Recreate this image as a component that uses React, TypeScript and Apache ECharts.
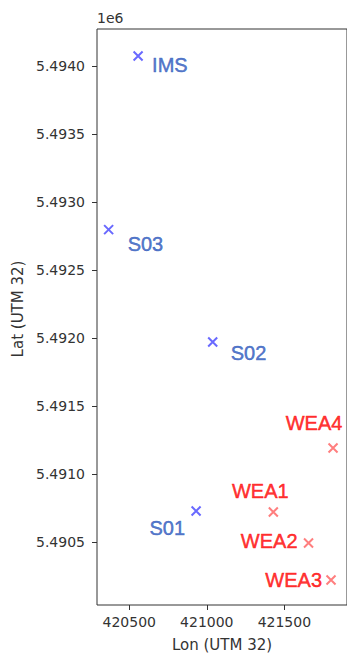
import React, { useEffect, useRef } from "react";
import * as echarts from "echarts";

// Measurement stations (UTM zone 32, metres)
const stationNames = ["IMS", "S03", "S02", "S01"];
const stationLon = [420557, 420367, 421038, 420931];
const stationLat = [5494074, 5492797, 5491971, 5490728];

// Wind turbines
const turbineNames = ["WEA1", "WEA2", "WEA3", "WEA4"];
const turbineLon = [421429, 421656, 421801, 421814];
const turbineLat = [5490721, 5490493, 5490221, 5491191];

// Axis ranges and tick values
const lonMin = 420292;
const lonMax = 421904;
const latMin = 5490037;
const latMax = 5494272;
const lonTicks = [420500, 421000, 421500];
const latTicks = [5490500, 5491000, 5491500, 5492000, 5492500, 5493000, 5493500, 5494000];

// Label placement next to each marker: [align, dx, dy] in pixels
const stationLabelPlace: [string, number, number][] = [
  ["left", 14, 9],
  ["left", 19, 14],
  ["left", 18, 11],
  ["right", -11, 17],
];
const turbineLabelPlace: [string, number, number][] = [
  ["center", -13, -21],
  ["right", -11, -2],
  ["right", -9, 0],
  ["center", -19, -25],
];

const CROSS = "path://M0,0L10,10M10,0L0,10";

export default function App() {
  const ref = useRef<HTMLDivElement>(null);

  useEffect(() => {
    if (!ref.current) return;
    const chart = echarts.init(ref.current, undefined, { renderer: "svg" });

    const makePoints = (
      names: string[],
      lon: number[],
      lat: number[],
      place: [string, number, number][]
    ) =>
      names.map((n, i) => ({
        name: n,
        value: [lon[i], lat[i]],
        label: { align: place[i][0], offset: [place[i][1], place[i][2]] },
      }));

    const axisText = { color: "#333", fontFamily: "DejaVu Sans", fontSize: 14 };

    const pointLabel = (color: string) => ({
      show: true,
      position: "inside",
      formatter: "{b}",
      color,
      textBorderColor: color,
      textBorderWidth: 0.5,
      fontFamily: "Liberation Sans",
      fontSize: 20,
      verticalAlign: "middle",
    });

    chart.setOption({
      animation: false,
      grid: {
        left: 97,
        top: 29,
        width: 255,
        height: 576,
        show: true,
        borderColor: "#333",
        borderWidth: 1,
        backgroundColor: "transparent",
      },
      xAxis: {
        type: "value",
        min: lonMin,
        max: lonMax,
        name: "Lon (UTM 32)",
        nameLocation: "middle",
        nameGap: 32,
        nameTextStyle: { ...axisText, fontSize: 15 },
        axisLine: { show: false },
        splitLine: { show: false },
        axisTick: {
          show: true,
          length: 5,
          customValues: lonTicks,
          lineStyle: { color: "#333" },
        },
        axisLabel: {
          ...axisText,
          margin: 10,
          customValues: lonTicks,
          formatter: (v: number) => String(v),
        },
      },
      yAxis: {
        type: "value",
        min: latMin,
        max: latMax,
        name: "Lat (UTM 32)",
        nameLocation: "middle",
        nameGap: 70,
        nameTextStyle: { ...axisText, fontSize: 15, padding: [0, 0, 0, 16] },
        axisLine: { show: false },
        splitLine: { show: false },
        axisTick: {
          show: true,
          length: 5,
          customValues: latTicks,
          lineStyle: { color: "#333" },
        },
        axisLabel: {
          ...axisText,
          margin: 12,
          customValues: latTicks,
          formatter: (v: number) => (v / 1e6).toFixed(4),
        },
      },
      graphic: [
        {
          type: "text",
          left: 97,
          top: 11,
          style: { text: "1e6", fill: "#333", font: "14px 'DejaVu Sans'" },
        },
      ],
      series: [
        {
          type: "scatter",
          symbol: CROSS,
          symbolSize: 9,
          itemStyle: { color: "none", borderColor: "rgba(20,20,255,0.8)", borderWidth: 2 },
          label: pointLabel("#2c58bd"),
          data: makePoints(stationNames, stationLon, stationLat, stationLabelPlace),
        },
        {
          type: "scatter",
          symbol: CROSS,
          symbolSize: 9,
          itemStyle: { color: "none", borderColor: "rgba(255,40,40,0.75)", borderWidth: 2 },
          label: pointLabel("#ff0000"),
          data: makePoints(turbineNames, turbineLon, turbineLat, turbineLabelPlace),
        },
      ],
    });

    return () => chart.dispose();
  }, []);

  return (
    <div
      ref={ref}
      style={{ position: "fixed", left: 0, top: 0, width: 347, height: 658, background: "#fff" }}
    />
  );
}
